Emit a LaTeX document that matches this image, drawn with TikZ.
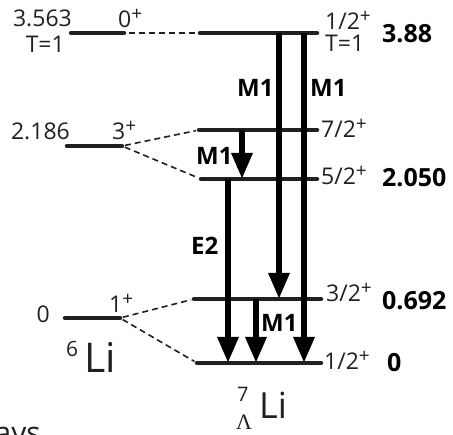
\documentclass[tikz,border=0pt]{standalone}
\usepackage{fontspec}
\setmainfont{Open Sans}
\newfontfamily\greekserif{Liberation Serif}
\usetikzlibrary{arrows.meta}
\definecolor{ink}{RGB}{35,31,32}
\newcommand{\sPlus}{\raisebox{7pt}{\fontsize{19}{19}\selectfont +}}
\begin{document}
\begin{tikzpicture}[x=1pt,y=-1pt,
  lev/.style={line width=4.5pt, draw=ink, line cap=round},
  dsh/.style={line width=1.6pt, draw=ink, dash pattern=on 6pt off 4pt},
  gam/.style={line width=6pt, draw=black, -{Triangle[width=20pt,length=26pt]}},
  lab/.style={inner sep=0pt, text=ink, font=\fontsize{23}{23}\selectfont},
  blab/.style={inner sep=0pt, text=black, font=\bfseries\fontsize{25}{25}\selectfont},
  tlab/.style={inner sep=0pt, text=black, font=\bfseries\fontsize{24}{24}\selectfont}]
\path[use as bounding box] (0,0) rectangle (453,435);

% ---- 6Li levels
\coordinate (s0a) at (71,33);  \coordinate (s0b) at (124,33);
\coordinate (s3a) at (67,146); \coordinate (s3b) at (122,146);
\coordinate (s1a) at (65,318); \coordinate (s1b) at (120,318);
% ---- 7LLi levels
\coordinate (h388a) at (200,33);  \coordinate (h388b) at (317,33);
\coordinate (h72a)  at (199,130); \coordinate (h72b)  at (317,130);
\coordinate (h52a)  at (201,179); \coordinate (h52b)  at (317,179);
\coordinate (h32a)  at (194,299); \coordinate (h32b)  at (321,299);
\coordinate (h12a)  at (197,363); \coordinate (h12b)  at (321,363);

\foreach \a/\b in {s0a/s0b,s3a/s3b,s1a/s1b,h388a/h388b,h72a/h72b,h52a/h52b,h32a/h32b,h12a/h12b}
  \draw[lev] (\a) -- (\b);

% ---- dashed correspondences
\draw[dsh, shorten <=5pt, shorten >=4pt] (s0b) -- (h388a);
\draw[dsh, shorten <=3pt, shorten >=3pt] (s3b) -- (h72a);
\draw[dsh, shorten <=3pt, shorten >=3pt] (s3b) -- (h52a);
\draw[dsh, shorten <=3pt, shorten >=3pt] (s1b) -- (h32a);
\draw[dsh, shorten <=3pt, shorten >=3pt] (s1b) -- (h12a);

% ---- gamma transitions
\coordinate (g1s) at (279,33);  \coordinate (g1e) at (279,299);
\coordinate (g2s) at (304,33);  \coordinate (g2e) at (304,363);
\coordinate (g3s) at (242,130); \coordinate (g3e) at (242,179);
\coordinate (g4s) at (228,179); \coordinate (g4e) at (228,363);
\coordinate (g5s) at (256,299); \coordinate (g5e) at (256,363);
\draw[gam] (g1s) -- (g1e);
\draw[gam] (g2s) -- (g2e);
\draw[gam] (g3s) -- (g3e);
\draw[gam] (g4s) -- (g4e);
\draw[gam] (g5s) -- (g5e);

% ---- transition labels
\node[tlab, anchor=base west] (m1a) at (237,97) {M1};
\node[tlab, anchor=base west] (m1b) at (310,97) {M1};
\node[tlab, anchor=base west] (m1c) at (196,165) {M1};
\node[tlab, anchor=base west] (e2)  at (191,255) {E2};
\node[tlab, anchor=base west] (m1d) at (261,332) {M1};

% ---- 6Li labels
\node[lab, anchor=base east] (e3563) at (72,27) {3.563};
\node[lab, anchor=base east] (t1l)   at (65,53) {T=1};
\node[lab, anchor=base west] (j0)    at (118,28) {0\sPlus};
\node[lab, anchor=base east] (e2186) at (70,140) {2.186};
\node[lab, anchor=base west] (j3)    at (112,140) {3\sPlus};
\node[lab, anchor=base east] (e0l)   at (50,323) {0};
\node[lab, anchor=base west] (j1)    at (109,313) {1\sPlus};
\node[inner sep=0pt, text=ink, font=\fontsize{21}{21}\selectfont, anchor=base west] (six) at (66,357) {6};
\node[inner sep=0pt, text=ink, font=\fontsize{41}{41}\selectfont, anchor=base west] (li6) at (84,373) {Li};

% ---- 7LLi labels
\node[lab, anchor=base west] (jt)   at (325,30) {1/2\sPlus};
\node[lab, anchor=base west] (t1r)  at (325,52) {T=1};
\node[blab, anchor=base west] (e388) at (382,43) {3.88};
\node[lab, anchor=base west] (j72)  at (321,138) {7/2\sPlus};
\node[lab, anchor=base west] (j52)  at (321,185) {5/2\sPlus};
\node[blab, anchor=base west] (e2050) at (382,187) {2.050};
\node[lab, anchor=base west] (j32)  at (326,302) {3/2\sPlus};
\node[blab, anchor=base west] (e0692) at (382,310) {0.692};
\node[lab, anchor=base west] (j12)  at (324,370) {1/2\sPlus};
\node[blab, anchor=base west] (e0r)  at (387,372) {0};
\node[inner sep=0pt, text=ink, font=\fontsize{20}{20}\selectfont, anchor=base west] (seven) at (237,402) {7};
\node[inner sep=0pt, text=ink, font=\greekserif\fontsize{22}{22}\selectfont, anchor=base west] (lam) at (236,430) {Λ};
\node[inner sep=0pt, text=ink, font=\fontsize{36}{36}\selectfont, anchor=base west] (li7) at (259,419) {Li};

% ---- caption fragment, cut off at the lower edge as in the reference
\node[inner sep=0pt, text=ink, font=\fontsize{30}{30}\selectfont, anchor=base east] (frag) at (41,444) {ays};
\end{tikzpicture}
\end{document}
